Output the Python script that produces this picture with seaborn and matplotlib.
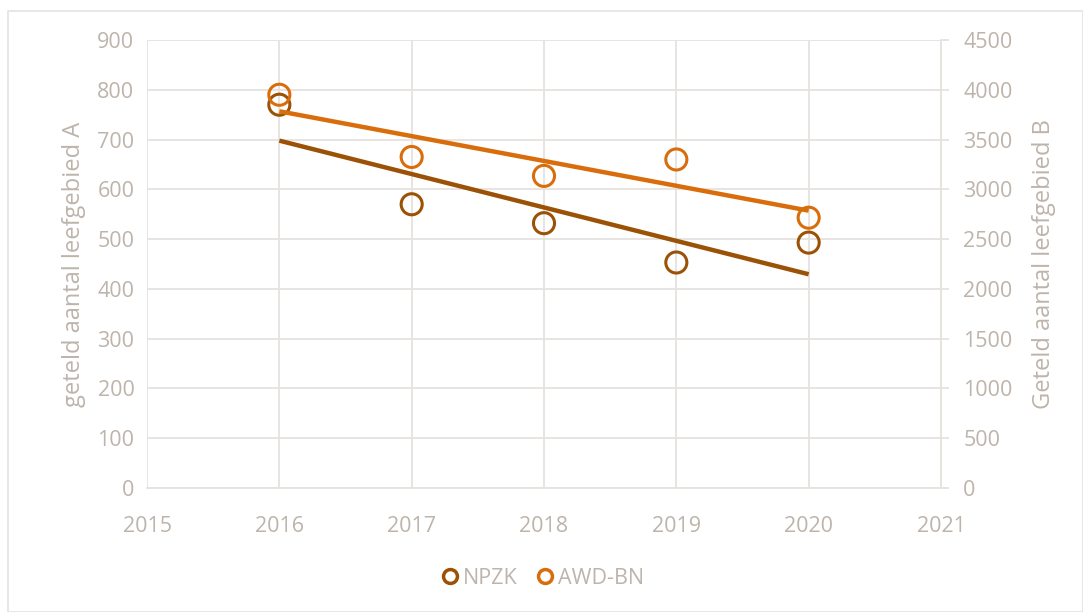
import numpy as np
import pandas as pd
import matplotlib
matplotlib.use('Agg')
import matplotlib.pyplot as plt
import seaborn as sns
from matplotlib.patches import Rectangle

# data
years = [2016, 2017, 2018, 2019, 2020]
npzk = [770, 570, 532, 453, 493]          # left axis (A)
awd_bn = [3950, 3325, 3135, 3300, 2715]   # right axis (B)

sns.set_style("white")
plt.rcParams['font.family'] = ['Open Sans', 'DejaVu Sans']

text_col = '#BDB4AB'
grid_col = '#E6E2DE'
c_npzk = '#9C5206'
c_awd = '#D96D0C'

df = pd.DataFrame({'jaar': years, 'NPZK': npzk, 'AWD-BN': awd_bn})

fig = plt.figure(figsize=(10.83, 6.12), dpi=100)
ax = fig.add_axes([147 / 1083, 1 - 488 / 612, (941 - 147) / 1083, (488 - 40) / 612])
ax2 = ax.twinx()

# scatter points
sns.scatterplot(data=df, x='jaar', y='NPZK', ax=ax, s=230, marker='o',
                facecolors='none', edgecolor=c_npzk, linewidth=2.2, zorder=3)
sns.scatterplot(data=df, x='jaar', y='AWD-BN', ax=ax2, s=230, marker='o',
                facecolors='none', edgecolor=c_awd, linewidth=2.2, zorder=3)

# linear trend lines
xs = np.array([years[0], years[-1]])
p1 = np.polyfit(years, npzk, 1)
p2 = np.polyfit(years, awd_bn, 1)
ax.plot(xs, np.polyval(p1, xs), color=c_npzk, lw=3.2, zorder=2, solid_capstyle='butt')
ax2.plot(xs, np.polyval(p2, xs), color=c_awd, lw=3.2, zorder=2, solid_capstyle='butt')

ax.set_xlim(2015, 2021)
ax.set_ylim(0, 900)
ax2.set_ylim(0, 4500)
ax.set_xticks(range(2015, 2022))
ax.set_yticks(range(0, 901, 100))
ax2.set_yticks(range(0, 4501, 500))

ax.grid(True, color=grid_col, lw=1.3)
ax.set_axisbelow(True)
ax2.grid(False)

for s in ['top', 'left', 'right']:
    ax.spines[s].set_visible(False)
for s in ['top', 'left', 'bottom']:
    ax2.spines[s].set_visible(False)
ax.spines['bottom'].set_color(grid_col)
ax.spines['bottom'].set_linewidth(1.3)
ax2.spines['right'].set_color(grid_col)
ax2.spines['right'].set_linewidth(1.3)

ax.tick_params(axis='both', colors=text_col, labelsize=15.5, length=0, pad=9)
ax.tick_params(axis='x', pad=20)
ax2.tick_params(axis='y', colors=text_col, labelsize=15.5, length=6, width=1.3,
                direction='out', pad=10)
ax2.tick_params(axis='y', color=grid_col)

ax.set_xlabel('')
ax.set_ylabel('geteld aantal leefgebied A', color=text_col, fontsize=17, labelpad=8)
ax2.set_ylabel('Geteld aantal leefgebied B', color=text_col, fontsize=17, labelpad=14)

# legend
h1 = plt.Line2D([], [], marker='o', ls='', markersize=10, markerfacecolor='none',
                markeredgecolor=c_npzk, markeredgewidth=2.5, label='NPZK')
h2 = plt.Line2D([], [], marker='o', ls='', markersize=10, markerfacecolor='none',
                markeredgecolor=c_awd, markeredgewidth=2.5, label='AWD-BN')
fig.legend(handles=[h1, h2], loc='center', bbox_to_anchor=(0.5, 1 - 578 / 612),
           ncol=2, frameon=False, fontsize=15.5, labelcolor=text_col,
           handletextpad=0.1, columnspacing=0.8, handlelength=1.0)

# outer chart border
fig.patches.append(Rectangle((8 / 1083, 0), 1 - 8 / 1083, 1 - 11 / 612,
                             transform=fig.transFigure, fill=False,
                             edgecolor='#E3E3E3', lw=1.2))

fig.savefig('out.png', dpi=100)
